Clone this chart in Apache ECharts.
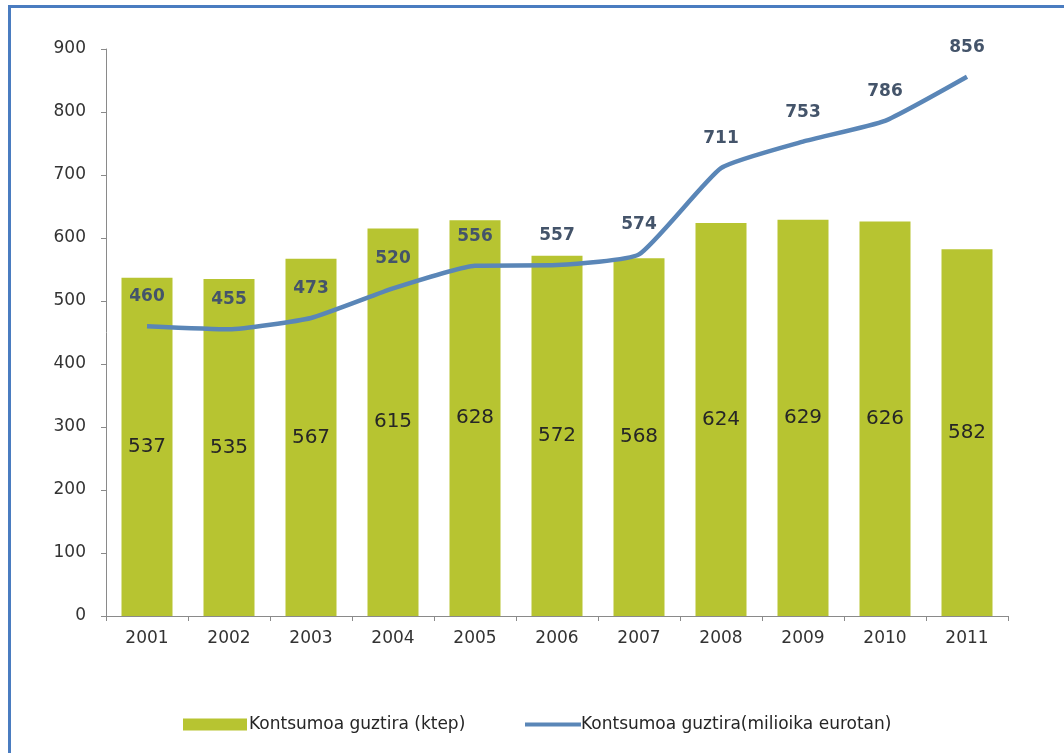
<!DOCTYPE html>
<html>
<head>
<meta charset="utf-8">
<script src="https://cdn.jsdelivr.net/npm/echarts@6/dist/echarts.min.js"></script>
<style>
html,body{margin:0;padding:0;background:#fff;}
#frame{position:absolute;left:8px;top:5px;width:1100px;height:800px;border-left:3px solid #4a7cc0;border-top:3px solid #4a7cc0;box-sizing:border-box;}
#chart{position:absolute;left:0;top:0;width:1064px;height:753px;}
</style>
</head>
<body>
<div id="frame"></div>
<div id="chart"></div>
<script>
const years = ['2001','2002','2003','2004','2005','2006','2007','2008','2009','2010','2011'];
const ktepValues = [537, 535, 567, 615, 628, 572, 568, 624, 629, 626, 582];
const euroValues = [460, 455, 473, 520, 556, 557, 574, 711, 753, 786, 856];
const barName = 'Kontsumoa guztira (ktep)';
const lineName = 'Kontsumoa guztira(milioika eurotan)';
const yTicks = { min: 0, max: 900, interval: 100 };

const font = 'DejaVu Sans';
const chart = echarts.init(document.getElementById('chart'), null, { renderer: 'canvas' });
chart.setOption({
  backgroundColor: 'transparent',
  animation: false,
  grid: { left: 106, right: 56, top: 49, bottom: 137 },
  legend: [
    {
      data: [barName], left: 178, top: 711, itemWidth: 64, itemHeight: 12, itemGap: 4,
      icon: 'rect',
      textStyle: { fontFamily: font, fontSize: 17, color: '#262626', padding: [0, 0, 0, -3] }
    },
    {
      data: [{ name: lineName, icon: 'rect' }], left: 520, top: 711, itemWidth: 56, itemHeight: 4,
      textStyle: { fontFamily: font, fontSize: 17, color: '#262626', padding: [0, 0, 0, -5] }
    }
  ],
  xAxis: {
    type: 'category', data: years,
    axisLine: { lineStyle: { color: '#8a8a8a', width: 1 } },
    axisTick: { show: true, length: 5, lineStyle: { color: '#8a8a8a' } },
    axisLabel: { fontFamily: font, fontSize: 17, color: '#333', margin: 14 }
  },
  yAxis: {
    type: 'value', min: yTicks.min, max: yTicks.max, interval: yTicks.interval,
    axisLine: { show: true, lineStyle: { color: '#8a8a8a', width: 1 } },
    axisTick: { show: true, length: 5, lineStyle: { color: '#8a8a8a' } },
    splitLine: { show: false },
    axisLabel: { fontFamily: font, fontSize: 17, color: '#333', margin: 20 }
  },
  series: [
    {
      name: barName, type: 'bar', data: ktepValues, barWidth: 51,
      itemStyle: { color: '#b7c431' },
      label: { show: true, position: 'inside', fontFamily: font, fontSize: 20, color: '#262626' },
      z: 1
    },
    {
      name: lineName, type: 'line', data: euroValues, symbol: 'circle', symbolSize: 0, showSymbol: true,
      smooth: 0.15,
      lineStyle: { color: '#5a86b7', width: 4.5 },
      itemStyle: { color: '#5a86b7' },
      label: { show: true, position: 'top', distance: 21, fontFamily: font, fontSize: 17, fontWeight: 'bold', color: '#44546a' },
      z: 3
    }
  ]
});
</script>
</body>
</html>
